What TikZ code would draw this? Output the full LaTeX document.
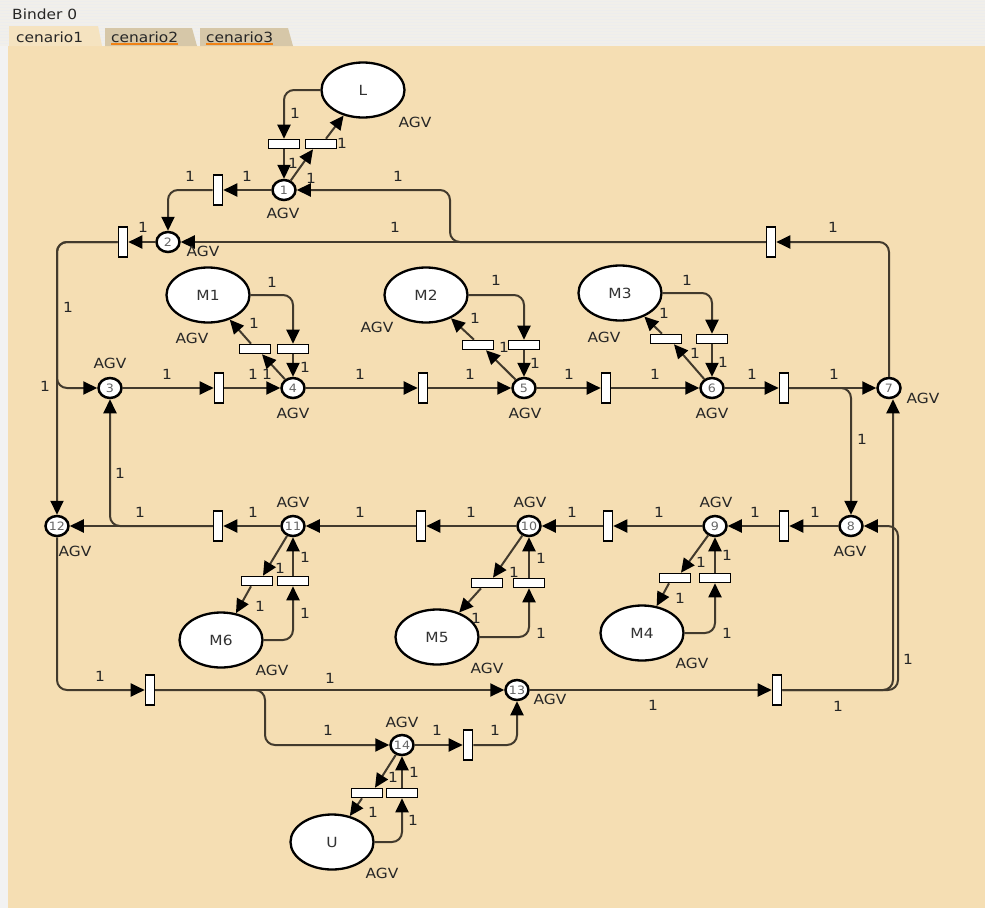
\documentclass[tikz,border=0pt]{standalone}
\usepackage{fontspec}
\setmainfont{DejaVu Sans}[FakeStretch=1.1]
\usetikzlibrary{shapes.geometric,arrows.meta,calc}
\definecolor{panel}{RGB}{245,222,179}
\definecolor{arccol}{RGB}{66,58,45}
\definecolor{topbg}{RGB}{241,239,234}
\definecolor{tabin}{RGB}{214,199,168}
\definecolor{tabact}{RGB}{245,227,192}
\definecolor{orangeul}{RGB}{240,130,20}
\tikzset{
  plc/.style={ellipse, draw=black, line width=2.5pt, fill=white, minimum width=23pt, minimum height=20pt, inner sep=0pt, font=\fontsize{11.5}{11.5}\selectfont, text=black!60},
  resv/.style={ellipse, draw=black, line width=2.3pt, fill=white, minimum width=83pt, minimum height=55pt, inner sep=0pt, font=\fontsize{14}{14}\selectfont, text=black!80},
  vtr/.style={rectangle, draw=black, line width=1.6pt, fill=white, minimum width=9pt, minimum height=30pt, inner sep=0pt},
  htr/.style={rectangle, draw=black, line width=1.6pt, fill=white, minimum width=31pt, minimum height=9pt, inner sep=0pt},
  flow/.style={draw=arccol, line width=2pt, rounded corners=10pt, -{Triangle[length=14pt,width=13pt,color=black]}},
  lbl/.style={font=\fontsize{14}{14}\selectfont, text=black!85, inner sep=0pt},
  tabtxt/.style={font=\fontsize{14}{14}\selectfont, text=black!85, inner sep=0pt, anchor=west},
}
\begin{document}
\begin{tikzpicture}[x=1pt,y=-1pt]
\useasboundingbox (0,0) rectangle (985,908);
% window background
\fill[topbg] (0,0) rectangle (985,46);
\foreach \k in {0,...,15} \draw[black!7,line width=1pt] (0,1.5+3*\k) -- (985,1.5+3*\k);
\fill[white!95!black] (0,46) rectangle (8,908);
\fill[panel] (8,46) rectangle (985,908);
\node[tabtxt] (binder) at (12,14) {Binder 0};
% tabs
\fill[tabin] (105,46) -- (105,28) -- (192,28) -- (197,46) -- cycle;
\fill[tabin] (200,46) -- (200,28) -- (288,28) -- (293,46) -- cycle;
\fill[tabact] (9,46) -- (9,26) -- (98,26) -- (102,46) -- cycle;
\node[tabtxt] (tab1) at (16,37) {cenario1};
\node[tabtxt] (tab2) at (111,37) {cenario2};
\node[tabtxt] (tab3) at (206,37) {cenario3};
\draw[orangeul,line width=1.8pt] (tab2.west |- 0,44) -- (tab2.east |- 0,44);
\draw[orangeul,line width=1.8pt] (tab3.west |- 0,44) -- (tab3.east |- 0,44);

% places
\node[plc] (p1) at (284,190) {1};
\node[plc] (p2) at (168,242) {2};
\node[plc] (p3) at (110,388) {3};
\node[plc] (p4) at (293,388) {4};
\node[plc] (p5) at (524,388) {5};
\node[plc] (p6) at (712,388) {6};
\node[plc] (p7) at (889,388) {7};
\node[plc] (p8) at (851,526) {8};
\node[plc] (p9) at (715,526) {9};
\node[plc] (p10) at (529,526) {10};
\node[plc] (p11) at (293,526) {11};
\node[plc] (p12) at (57,526) {12};
\node[plc] (p13) at (517,690) {13};
\node[plc] (p14) at (402,745) {14};
% resources
\node[resv] (L) at (363,90) {L};
\node[resv] (M1) at (208,295) {M1};
\node[resv] (M2) at (426,295) {M2};
\node[resv] (M3) at (620,293) {M3};
\node[resv] (M4) at (642,633) {M4};
\node[resv] (M5) at (437,637) {M5};
\node[resv] (M6) at (221,640) {M6};
\node[resv] (U) at (332,842) {U};
% vertical transitions
\node[vtr] (t12) at (218,190) {};
\node[vtr] (t23) at (123,242) {};
\node[vtr] (ttop) at (771,242) {};
\node[vtr] (t34) at (219,388) {};
\node[vtr] (t45) at (423,388) {};
\node[vtr] (t56) at (606,388) {};
\node[vtr] (t67) at (784,388) {};
\node[vtr] (t89) at (784,526) {};
\node[vtr] (t910) at (608,526) {};
\node[vtr] (t1011) at (421,526) {};
\node[vtr] (t1112) at (218,526) {};
\node[vtr] (t1213) at (150,690) {};
\node[vtr] (t138) at (777,690) {};
\node[vtr] (t1413) at (468,745) {};
% horizontal transitions
\node[htr] (tLin) at (284,144) {};
\node[htr] (tLout) at (321,144) {};
\node[htr] (tM1out) at (255,349) {};
\node[htr] (tM1in) at (293,349) {};
\node[htr] (tM2out) at (478,345) {};
\node[htr] (tM2in) at (524,345) {};
\node[htr] (tM3out) at (666,339) {};
\node[htr] (tM3in) at (712,339) {};
\node[htr] (tM4out) at (675,578) {};
\node[htr] (tM4in) at (715,578) {};
\node[htr] (tM5out) at (487,583) {};
\node[htr] (tM5in) at (529,583) {};
\node[htr] (tM6out) at (257,581) {};
\node[htr] (tM6in) at (293,581) {};
\node[htr] (tUout) at (367,793) {};
\node[htr] (tUin) at (402,793) {};

% arcs around L
\draw[flow] (L.west) -| (tLin.north);
\draw[flow] (tLin.south) -- (p1.north);
\draw[flow] (p1) -- ([xshift=-8pt]tLout.south);
\draw[flow] ([xshift=5pt]tLout.north) -- (L);
\draw[flow] (p1.west) -- (t12.east);
\draw[flow] (t12.west) -| (p2.north);
\draw[flow] (ttop.west) -| (450,216) |- (p1.east);
\draw[flow] (ttop.west) -- (p2.east);
\draw[flow] (p7.north) |- (ttop.east);
\draw[flow] (p2.west) -- (t23.east);
\draw[flow] (t23.west) -| (57,300) |- (p3.west);
\draw[flow] (t23.west) -| (p12.north);
% upper row
\draw[flow] (p3.east) -- (t34.west);
\draw[flow] (t34.east) -- (p4.west);
\draw[flow] (p4) -- ([xshift=7pt]tM1out.south);
\draw[flow] ([xshift=-4pt]tM1out.north) -- (M1);
\draw[flow] (M1.east) -| (tM1in.north);
\draw[flow] (tM1in.south) -- (p4.north);
\draw[flow] (p4.east) -- (t45.west);
\draw[flow] (t45.east) -- (p5.west);
\draw[flow] (p5) -- ([xshift=8pt]tM2out.south);
\draw[flow] ([xshift=-4pt]tM2out.north) -- (M2);
\draw[flow] (M2.east) -| (tM2in.north);
\draw[flow] (tM2in.south) -- (p5.north);
\draw[flow] (p5.east) -- (t56.west);
\draw[flow] (t56.east) -- (p6.west);
\draw[flow] (p6) -- ([xshift=8pt]tM3out.south);
\draw[flow] ([xshift=-4pt]tM3out.north) -- (M3);
\draw[flow] (M3.east) -| (tM3in.north);
\draw[flow] (tM3in.south) -- (p6.north);
\draw[flow] (p6.east) -- (t67.west);
\draw[flow] (t67.east) -- (p7.west);
\draw[flow] (t67.east) -| (p8.north);
% lower row
\draw[flow] (p8.west) -- (t89.east);
\draw[flow] (t89.west) -- (p9.east);
\draw[flow] (p9) -- ([xshift=6pt]tM4out.north);
\draw[flow] ([xshift=-6pt]tM4out.south) -- (M4);
\draw[flow] (M4.east) -| (tM4in.south);
\draw[flow] (tM4in.north) -- (p9.south);
\draw[flow] (p9.west) -- (t910.east);
\draw[flow] (t910.west) -- (p10.east);
\draw[flow] (p10) -- ([xshift=6pt]tM5out.north);
\draw[flow] ([xshift=-6pt]tM5out.south) -- (M5);
\draw[flow] (M5.east) -| (tM5in.south);
\draw[flow] (tM5in.north) -- (p10.south);
\draw[flow] (p10.west) -- (t1011.east);
\draw[flow] (t1011.west) -- (p11.east);
\draw[flow] (p11) -- ([xshift=6pt]tM6out.north);
\draw[flow] ([xshift=-6pt]tM6out.south) -- (M6);
\draw[flow] (M6.east) -| (tM6in.south);
\draw[flow] (tM6in.north) -- (p11.south);
\draw[flow] (p11.west) -- (t1112.east);
\draw[flow] (t1112.west) -- (p12.east);
\draw[flow] (t1112.west) -| (p3.south);
% bottom
\draw[flow] (p12.south) |- (t1213.west);
\draw[flow] (t1213.east) -- (p13.west);
\draw[flow] (t1213.east) -| (265,720) |- (p14.west);
\draw[flow] (p14) -- ([xshift=8pt]tUout.north);
\draw[flow] ([xshift=-5pt]tUout.south) -- (U);
\draw[flow] (U.east) -| (tUin.south);
\draw[flow] (tUin.north) -- (p14.south);
\draw[flow] (p14.east) -- (t1413.west);
\draw[flow] (t1413.east) -| (p13.south);
\draw[flow] (p13.east) -- (t138.west);
\draw[flow] (t138.east) -| (898,600) |- (p8.east);
\draw[flow] (t138.east) -| ([xshift=4pt]p7.south);

% weight labels
\foreach \x/\y [count=\i] in {295/113, 293/163, 311/178, 342/143, 247/176, 190/176, 398/176, 395/227, 833/227, 143/227, 68/307, 45/386,
 167/374, 253/374, 267/374, 254/323, 272/282, 305/367, 360/374, 470/374,
 504/347, 475/318, 496/280, 535/363, 569/374, 655/374,
 695/353, 664/313, 687/280, 723/362, 752/374, 834/374, 862/439,
 815/512, 755/512, 701/562, 680/598, 727/633, 727/555, 659/512, 572/512,
 514/572, 476/618, 541/633, 541/558, 471/512, 360/512,
 280/568, 260/606, 305/613, 305/557, 253/512, 140/512, 120/473,
 100/676, 330/678, 328/730, 393/777, 373/812, 413/820, 414/772, 437/730, 495/730,
 653/705, 838/706, 908/659}
 \node[lbl] (w\i) at (\x,\y) {1};
% AGV labels
\foreach \x/\y [count=\i] in {415/122, 283/213, 203/251, 192/338, 110/363, 293/413, 377/327, 525/413, 604/337, 712/413, 923/398,
 850/551, 716/502, 530/502, 293/502, 75/551, 272/670, 487/668, 692/663, 550/699, 402/722, 382/873}
 \node[lbl] (agv\i) at (\x,\y) {AGV};
\end{tikzpicture}
\end{document}
